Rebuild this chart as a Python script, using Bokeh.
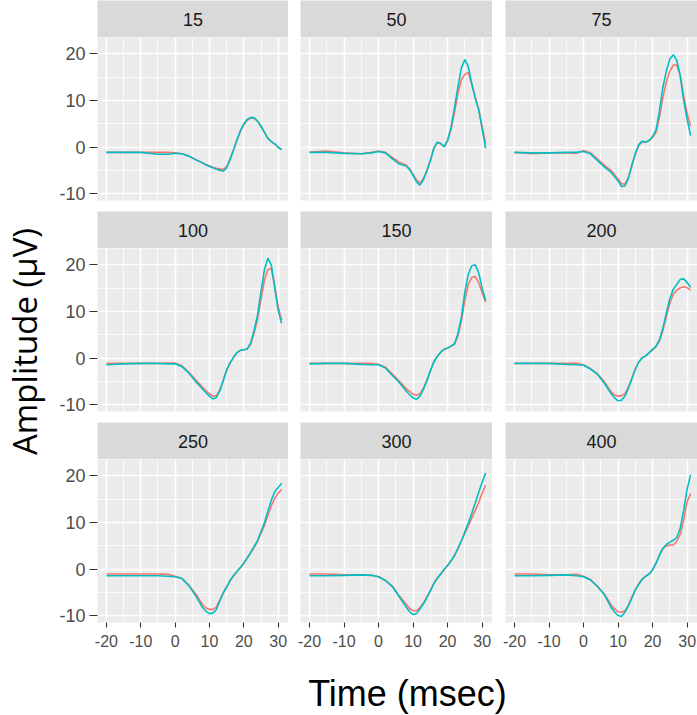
from math import pi

from bokeh.embed import file_html
from bokeh.layouts import column, row
from bokeh.models import FixedTicker, Label, Range1d
from bokeh.plotting import figure
from bokeh.resources import INLINE

# Time axis shared by every panel (msec)
time_ms = [-20, -15, -10, -5, -2, 0, 2, 4, 6, 8, 9, 10, 11, 12, 13, 14, 15, 16,
           17, 18, 19, 20, 21, 22, 23, 24, 25, 26, 27, 28, 29, 30, 31]

panel_labels = ["15", "50", "75", "100", "150", "200", "250", "300", "400"]

# Amplitude (µV), condition 1 (red) and condition 2 (cyan) per panel
cond1_15 = [-1.1, -1.1, -1.1, -1.1, -1.1, -1.2, -1.4, -1.9, -2.6, -3.3, -3.7, -4.0, -4.3, -4.5, -4.6, -4.7, -4.2,
            -2.6, -0.6, 1.5, 3.4, 4.8, 5.8, 6.2, 6.2, 5.6, 4.5, 3.2, 1.9, 1.2, 0.7, 0.0, -0.5]
cond2_15 = [-1.1, -1.1, -1.1, -1.5, -1.5, -1.3, -1.4, -1.9, -2.7, -3.4, -3.8, -4.1, -4.4, -4.7, -4.9, -5.1, -4.4,
            -2.6, -0.6, 1.6, 3.6, 5.0, 6.0, 6.4, 6.3, 5.6, 4.5, 3.2, 1.9, 1.2, 0.7, 0.0, -0.5]

cond1_50 = [-1.0, -0.8, -1.2, -1.4, -1.1, -0.8, -1.1, -2.2, -3.2, -3.8, -4.6, -5.8, -7.0, -7.7, -6.7, -5.0, -2.8,
            -0.3, 1.0, 0.8, 0.1, 1.4, 3.9, 7.5, 11.5, 14.5, 15.6, 16.0, 13.5, 10.8, 8.2, 4.5, 0.8]
cond2_50 = [-1.1, -1.1, -1.3, -1.4, -1.2, -0.9, -1.2, -2.5, -3.6, -4.0, -4.8, -6.0, -7.4, -8.1, -6.9, -5.1, -2.9,
            -0.2, 1.1, 0.8, 0.1, 1.5, 4.3, 8.5, 13.0, 17.0, 18.8, 17.2, 13.6, 10.5, 8.0, 3.9, -0.2]

cond1_75 = [-1.1, -1.4, -1.2, -1.2, -1.3, -0.7, -1.2, -2.5, -3.8, -5.0, -5.9, -6.8, -7.8, -7.9, -6.5, -3.9, -1.5,
            0.4, 1.2, 1.1, 1.4, 2.1, 3.2, 6.5, 10.8, 14.0, 16.3, 17.6, 17.6, 15.5, 11.0, 7.3, 4.5]
cond2_75 = [-1.1, -1.2, -1.2, -1.1, -1.1, -0.9, -1.4, -2.8, -4.2, -5.4, -6.3, -7.2, -8.4, -8.3, -6.6, -3.8, -1.3,
            0.6, 1.3, 1.1, 1.5, 2.3, 3.7, 7.9, 12.9, 16.4, 18.9, 19.8, 18.6, 15.2, 10.0, 6.0, 2.5]

cond1_100 = [-1.1, -1.1, -1.1, -1.1, -1.0, -1.0, -1.6, -3.0, -4.6, -6.2, -7.0, -7.6, -8.1, -8.0, -6.8, -4.7, -2.5,
             -1.0, 0.2, 1.2, 1.7, 1.8, 2.0, 3.0, 5.4, 8.4, 12.6, 16.8, 19.0, 19.2, 15.5, 11.0, 8.2]
cond2_100 = [-1.4, -1.2, -1.1, -1.1, -1.2, -1.2, -1.8, -3.2, -5.0, -6.6, -7.4, -8.1, -8.7, -8.4, -7.0, -4.8, -2.5,
             -1.0, 0.2, 1.2, 1.7, 1.8, 2.0, 3.3, 6.0, 9.3, 14.3, 19.0, 21.4, 20.0, 15.0, 10.2, 7.5]

cond1_150 = [-1.1, -1.1, -1.1, -1.1, -1.1, -1.3, -1.9, -3.4, -4.9, -6.5, -7.1, -7.7, -7.9, -7.6, -6.4, -4.7, -2.7,
             -0.8, 0.4, 1.3, 1.9, 2.2, 2.6, 3.0, 4.8, 8.0, 12.5, 15.8, 17.3, 17.5, 16.2, 14.0, 12.0]
cond2_150 = [-1.2, -1.1, -1.1, -1.3, -1.4, -1.4, -2.1, -3.7, -5.2, -7.0, -7.8, -8.5, -8.8, -8.1, -6.6, -4.8, -2.7,
             -0.8, 0.4, 1.3, 1.9, 2.2, 2.6, 3.1, 5.3, 8.8, 14.2, 18.0, 19.8, 20.0, 18.3, 15.0, 12.4]

cond1_200 = [-1.1, -1.1, -1.1, -1.1, -1.1, -1.4, -2.2, -3.3, -5.0, -7.2, -7.9, -8.1, -8.0, -7.6, -6.2, -4.3, -2.3,
             -0.8, 0.1, 0.5, 1.2, 1.8, 2.5, 3.7, 6.0, 9.0, 11.8, 13.7, 14.6, 15.1, 15.3, 15.1, 14.6]
cond2_200 = [-1.1, -1.1, -1.1, -1.3, -1.4, -1.5, -2.3, -3.4, -5.3, -7.6, -8.5, -9.1, -9.0, -8.1, -6.4, -4.4, -2.3,
             -0.8, 0.1, 0.5, 1.2, 1.9, 2.6, 4.0, 6.5, 9.8, 12.8, 14.8, 15.8, 16.9, 17.0, 16.2, 15.2]

cond1_250 = [-1.0, -1.0, -1.0, -1.0, -1.1, -1.5, -2.0, -3.4, -5.3, -7.6, -8.3, -8.6, -8.6, -8.1, -6.6, -5.0, -3.8,
             -2.4, -1.4, -0.5, 0.4, 1.3, 2.4, 3.5, 4.7, 6.0, 7.7, 9.4, 11.5, 13.6, 15.2, 16.3, 17.1]
cond2_250 = [-1.4, -1.4, -1.4, -1.4, -1.5, -1.6, -2.0, -3.5, -5.7, -8.2, -9.0, -9.5, -9.4, -8.6, -6.8, -5.1, -3.8,
             -2.4, -1.4, -0.5, 0.4, 1.3, 2.5, 3.6, 4.9, 6.2, 8.0, 10.0, 12.4, 14.8, 16.6, 17.5, 18.4]

cond1_300 = [-1.0, -1.0, -1.2, -1.2, -1.3, -1.6, -2.4, -3.6, -5.7, -7.5, -8.4, -8.9, -8.9, -8.2, -7.2, -5.9, -4.5,
             -3.0, -2.0, -1.0, -0.1, 0.8, 1.8, 2.9, 4.4, 6.0, 7.7, 9.3, 11.0, 12.6, 14.3, 16.3, 18.0]
cond2_300 = [-1.4, -1.4, -1.3, -1.2, -1.3, -1.6, -2.4, -3.7, -5.9, -8.1, -9.1, -9.7, -9.5, -8.5, -7.4, -6.1, -4.7,
             -3.1, -1.9, -1.0, 0.0, 0.8, 1.8, 3.0, 4.5, 6.1, 8.0, 9.9, 12.0, 14.2, 16.5, 18.6, 20.6]

cond1_400 = [-1.0, -1.0, -1.2, -1.2, -1.1, -1.5, -2.2, -3.6, -5.3, -7.6, -8.5, -9.1, -9.2, -8.9, -7.7, -5.9, -4.4,
             -3.1, -2.1, -1.5, -1.0, -0.1, 1.3, 3.0, 4.4, 5.0, 5.2, 5.2, 6.0, 7.5, 10.5, 14.5, 16.2]
cond2_400 = [-1.4, -1.4, -1.3, -1.2, -1.4, -1.6, -2.3, -3.7, -5.4, -8.2, -9.2, -9.9, -10.1, -9.2, -7.8, -6.2, -4.4,
             -3.2, -2.1, -1.5, -1.0, -0.1, 1.3, 3.1, 4.5, 5.3, 5.8, 6.2, 6.8, 8.8, 12.6, 17.2, 20.2]

cond1_series = [cond1_15, cond1_50, cond1_75, cond1_100, cond1_150, cond1_200, cond1_250, cond1_300, cond1_400]
cond2_series = [cond2_15, cond2_50, cond2_75, cond2_100, cond2_150, cond2_200, cond2_250, cond2_300, cond2_400]

x_major = [-20, -10, 0, 10, 20, 30]
x_minor = [-15, -5, 5, 15, 25]
y_major = [-10, 0, 10, 20]
y_minor = [-5, 5, 15]

RED = "#F8766D"
CYAN = "#00BFC4"
PANEL_BG = "#EBEBEB"
STRIP_BG = "#D9D9D9"
TICK_FONT = "Liberation Sans"

FRAME_H = 163
STRIP_H = 37
ROW_GAP = 11
X_AXIS_H = 35
YLAB_W = 50
col_left = [47, 12, 13]     # space left of each column's frame
col_frame = [191, 192, 192]


def plain_minus(ticks):
    # ASCII hyphen for negative tick labels
    return {t: str(t) for t in ticks}


def make_strip(text, c):
    left = col_left[c]
    s = figure(width=left + col_frame[c], height=STRIP_H,
               x_range=Range1d(0, 1), y_range=Range1d(0, 1),
               x_axis_location=None, y_axis_location=None,
               min_border_left=left, min_border_right=0, min_border_top=0, min_border_bottom=0,
               background_fill_color=STRIP_BG, border_fill_color="white", outline_line_color=None,
               output_backend="svg", toolbar_location=None)
    s.grid.visible = False
    s.add_layout(Label(x=0.5, y=0.5, text=text, text_align="center", text_baseline="middle",
                       text_font=TICK_FONT, text_font_size="18px", text_color="#1A1A1A"))
    return s


def make_panel(idx, c, show_x, show_y):
    left = col_left[c]
    bottom = X_AXIS_H if show_x else ROW_GAP
    p = figure(width=left + col_frame[c], height=FRAME_H + bottom,
               x_range=Range1d(-22.6, 33.0), y_range=Range1d(-11.4, 23.5),
               x_axis_location="below" if show_x else None,
               y_axis_location="left" if show_y else None,
               min_border_left=left, min_border_right=0, min_border_top=0, min_border_bottom=bottom,
               background_fill_color=PANEL_BG, border_fill_color="white", outline_line_color=None,
               output_backend="svg", toolbar_location=None)

    p.xgrid.ticker = FixedTicker(ticks=x_major, minor_ticks=x_minor)
    p.ygrid.ticker = FixedTicker(ticks=y_major, minor_ticks=y_minor)
    for g in (p.xgrid, p.ygrid):
        g.grid_line_color = "white"
        g.grid_line_width = 1.6
        g.minor_grid_line_color = "white"
        g.minor_grid_line_width = 0.8

    if show_x:
        ax = p.xaxis[0]
        ax.ticker = FixedTicker(ticks=x_major)
        ax.major_label_overrides = plain_minus(x_major)
        ax.axis_line_color = None
        ax.major_tick_line_color = "#333333"
        ax.major_tick_line_width = 1.1
        ax.major_tick_out = 5
        ax.major_tick_in = 0
        ax.minor_tick_line_color = None
        ax.major_label_standoff = 7
        ax.major_label_text_font = TICK_FONT
        ax.major_label_text_font_size = "16px"
        ax.major_label_text_color = "#4D4D4D"
    if show_y:
        ay = p.yaxis[0]
        ay.ticker = FixedTicker(ticks=y_major)
        ay.major_label_overrides = plain_minus(y_major)
        ay.axis_line_color = None
        ay.major_tick_line_color = "#333333"
        ay.major_tick_line_width = 1.1
        ay.major_tick_out = 8
        ay.major_tick_in = 0
        ay.minor_tick_line_color = None
        ay.major_label_standoff = 4
        ay.major_label_text_font = TICK_FONT
        ay.major_label_text_font_size = "18px"
        ay.major_label_text_color = "#4D4D4D"

    p.line(time_ms, cond1_series[idx], line_color=RED, line_width=1.6)
    p.line(time_ms, cond2_series[idx], line_color=CYAN, line_width=1.6)
    return p


columns = []
for c in range(3):
    items = []
    for r in range(3):
        idx = r * 3 + c
        items.append(make_strip(panel_labels[idx], c))
        items.append(make_panel(idx, c, show_x=(r == 2), show_y=(c == 0)))
    columns.append(column(*items, spacing=0))

grid_h = STRIP_H + FRAME_H + 2 * (ROW_GAP + STRIP_H + FRAME_H) + X_AXIS_H

ylab = figure(width=YLAB_W, height=grid_h, x_range=Range1d(0, YLAB_W), y_range=Range1d(grid_h, 0),
              x_axis_location=None, y_axis_location=None, min_border=0,
              outline_line_color=None, output_backend="svg", toolbar_location=None)
ylab.grid.visible = False
ylab.add_layout(Label(x=24, y=341, text="Amplitude (µV)", angle=pi / 2,
                      text_align="center", text_baseline="middle",
                      text_font="Open Sans", text_font_size="33px", text_color="black"))

total_w = YLAB_W + sum(col_left) + sum(col_frame)
xlab_h = 715 - grid_h
xlab = figure(width=total_w, height=xlab_h, x_range=Range1d(0, total_w), y_range=Range1d(xlab_h, 0),
              x_axis_location=None, y_axis_location=None, min_border=0,
              outline_line_color=None, output_backend="svg", toolbar_location=None)
xlab.grid.visible = False
xlab.add_layout(Label(x=407, y=36, text="Time (msec)", text_align="center", text_baseline="middle",
                      text_font=TICK_FONT, text_font_size="36px", text_color="black"))

layout = column(row(ylab, *columns, spacing=0), xlab, spacing=0)

with open("out.html", "w") as f:
    f.write(file_html(layout, INLINE, "Amplitude by time"))
